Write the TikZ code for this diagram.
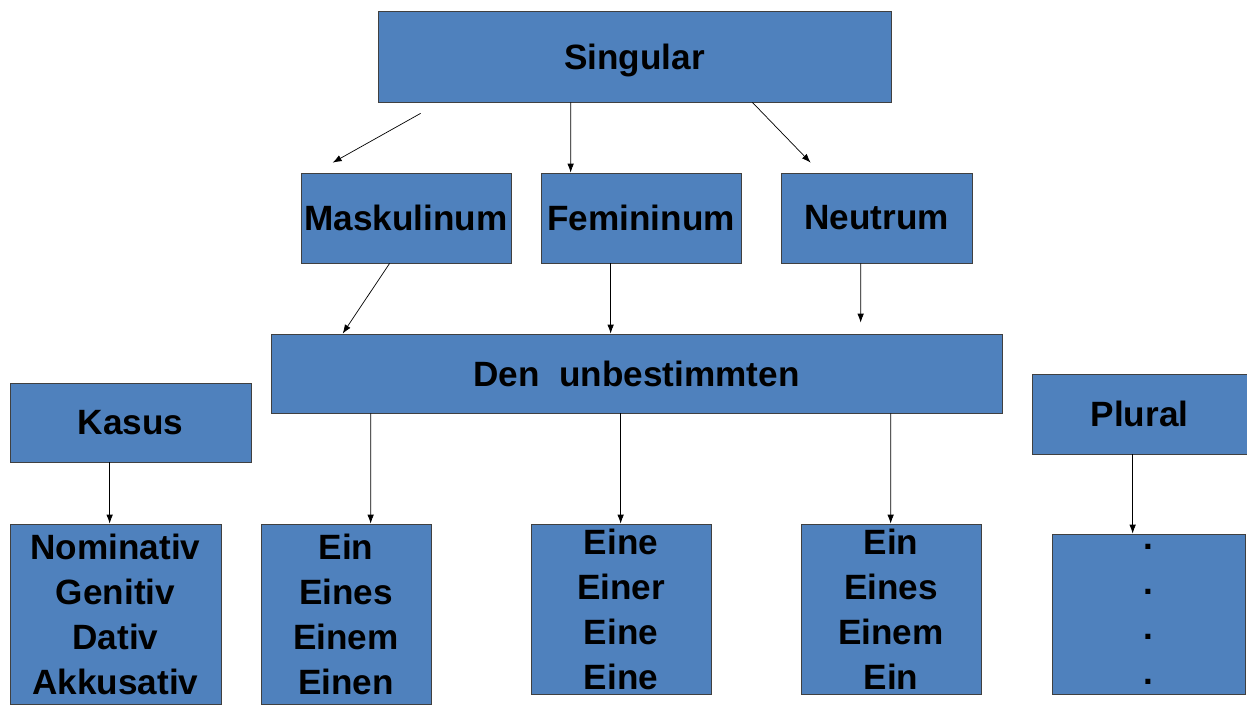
\documentclass[tikz,border=0pt]{standalone}
\usepackage{fontspec}
\setmainfont{Liberation Sans}
\usepackage{tikz}
\usetikzlibrary{arrows,arrows.meta,shapes}
\definecolor{boxblue}{RGB}{79,129,189}
\tikzstyle{box}=[rectangle,draw=black!75,fill=boxblue,inner sep=0pt,align=center,
  font=\fontsize{20}{25.6}\selectfont\bfseries]
\tikzstyle{arr} = [draw,thin,-{Latex[length=1.8mm,width=1.3mm]}]

\begin{document}
\begin{tikzpicture}[scale=1]
    \useasboundingbox (0,0) rectangle (24.94,-14.08);
    % Top row
    \node[box,minimum width=10.26cm,minimum height=1.82cm,text depth=0pt] (sing) at (12.69,-1.13) {Singular};
    \foreach \pos/\name/\boxw/\txt in {{(8.12,-4.36)/mask/4.2/Maskulinum},
        {(12.82,-4.36)/fem/4.0/Femininum}, {(17.53,-4.36)/neut/3.82/Neutrum}}
        \node[box,minimum width=\boxw cm,minimum height=1.8cm] (\name) at \pos {\txt};
    % Middle row
    \node[box,minimum width=14.62cm,minimum height=1.58cm] (den) at (12.73,-7.47) {Den\ \ unbestimmten};
    \node[box,minimum width=4.82cm,minimum height=1.58cm] (kasus) at (2.61,-8.45) {Kasus};
    \node[box,minimum width=4.3cm,minimum height=1.6cm] (plural) at (22.79,-8.28) {Plural};
    % Bottom row
    \node[box,minimum width=4.22cm,minimum height=3.6cm] (nom) at (2.31,-12.28)
        {Nominativ\\Genitiv\\Dativ\\Akkusativ};
    \node[box,minimum width=3.4cm,minimum height=3.6cm] (einm) at (6.92,-12.28)
        {Ein\\Eines\\Einem\\Einen};
    \node[box,minimum width=3.6cm,minimum height=3.4cm] (eine) at (12.42,-12.18)
        {Eine\\Einer\\Eine\\Eine};
    \node[box,minimum width=3.6cm,minimum height=3.4cm] (einn) at (17.82,-12.18)
        {Ein\\Eines\\Einem\\Ein};
    \node[box,minimum width=3.86cm,minimum height=3.2cm] (dots) at (22.97,-12.28)
        {.\\.\\.\\.};
    % Arrows from Singular
    \path[arr] ([xshift=0.86cm,yshift=-0.22cm]sing.south west) -- ([xshift=0.64cm,yshift=0.2cm]mask.north west);
    \path[arr] ([xshift=3.86cm]sing.south west) -- ([xshift=0.6cm]fem.north west);
    \path[arr] ([xshift=-2.78cm]sing.south east) -- ([xshift=0.6cm,yshift=0.2cm]neut.north west);
    % Arrows into Den unbestimmten
    \path[arr] ([xshift=1.78cm]mask.south west) -- ([xshift=1.44cm]den.north west);
    \path[arr] ([xshift=1.4cm]fem.south west) -- ([xshift=6.8cm]den.north west);
    \path[arr] ([xshift=1.6cm]neut.south west) -- ([xshift=11.8cm,yshift=0.22cm]den.north west);
    % Arrows down to the forms
    \foreach \source/\sx/\dest/\dx in {kasus/2.0/nom/2.0, den/2.0/einm/2.2,
        den/7.0/eine/1.8, den/12.4/einn/1.8, plural/2.02/dots/1.62}
        \path[arr] ([xshift=\sx cm]\source.south west) -- ([xshift=\dx cm]\dest.north west);

\end{tikzpicture}
\end{document}
